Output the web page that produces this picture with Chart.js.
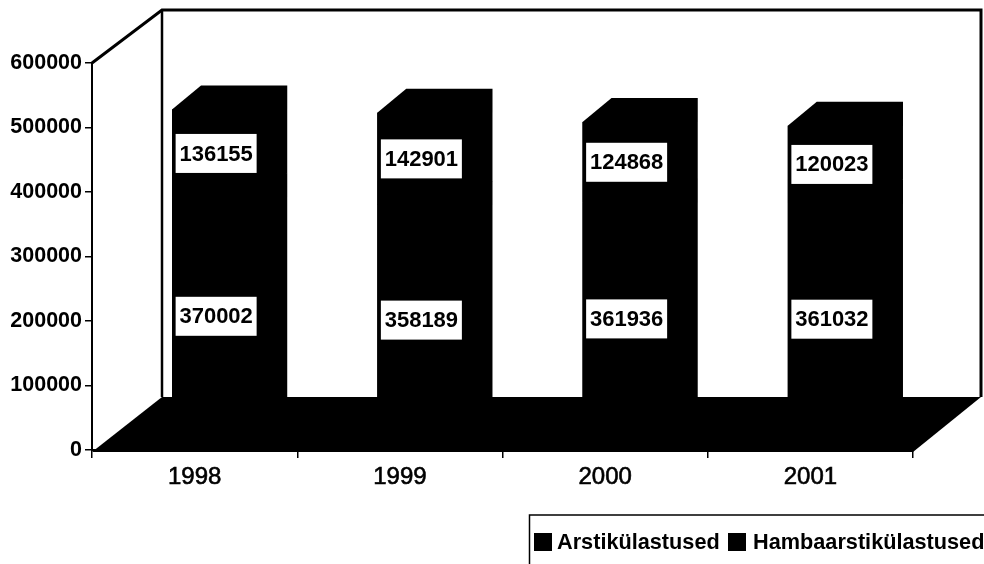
<!DOCTYPE html>
<html>
<head>
<meta charset="utf-8">
<style>html,body{margin:0;padding:0;background:#fff}canvas{display:block}</style>
<script src="https://cdn.jsdelivr.net/npm/chart.js@4"></script>
</head>
<body>
<canvas id="c" width="984" height="564"></canvas>
<script>
const categories = ['1998', '1999', '2000', '2001'];
const arstikulastused = [370002, 358189, 361936, 361032];
const hambaarstikulastused = [136155, 142901, 124868, 120023];
const seriesNames = ['Arstikülastused', 'Hambaarstikülastused'];
const yTicks = [0, 100000, 200000, 300000, 400000, 500000, 600000];

const WALL = {dx: 70, dy: -53};
const BAR_SHIFT = {dx: 20.5, dy: -14};
const BAR_DEPTH = {dx: 29, dy: -24};
const FONT = '"Liberation Sans", Arial, sans-serif';

const depth3d = {
  id: 'depth3d',
  beforeDatasetsDraw(chart) {
    const {ctx, chartArea: a} = chart;
    ctx.save();
    // back wall
    ctx.strokeStyle = '#000';
    ctx.lineWidth = 3;
    ctx.beginPath();
    ctx.moveTo(a.left, a.top);
    ctx.lineTo(a.left + WALL.dx, a.top + WALL.dy);
    ctx.lineTo(a.right + WALL.dx - 2, a.top + WALL.dy);
    ctx.lineTo(a.right + WALL.dx - 2, a.bottom + WALL.dy);
    ctx.stroke();
    ctx.lineWidth = 2.5;
    ctx.beginPath();
    ctx.moveTo(a.left + WALL.dx, a.top + WALL.dy);
    ctx.lineTo(a.left + WALL.dx, a.bottom + WALL.dy);
    ctx.stroke();
    // floor
    ctx.fillStyle = '#000';
    ctx.beginPath();
    ctx.moveTo(a.left, a.bottom + 2);
    ctx.lineTo(a.left + WALL.dx, a.bottom + WALL.dy);
    ctx.lineTo(a.right + WALL.dx - 2, a.bottom + WALL.dy);
    ctx.lineTo(a.right, a.bottom + 2);
    ctx.closePath();
    ctx.fill();
    // shift bars into the depth of the box and extrude them
    ctx.translate(BAR_SHIFT.dx, BAR_SHIFT.dy);
    chart.data.datasets.forEach((ds, i) => {
      chart.getDatasetMeta(i).data.forEach(bar => {
        const l = bar.x - bar.width / 2, r = bar.x + bar.width / 2;
        ctx.fillStyle = ds.backgroundColor;
        ctx.beginPath();
        ctx.moveTo(l, bar.y);
        ctx.lineTo(l + BAR_DEPTH.dx, bar.y + BAR_DEPTH.dy);
        ctx.lineTo(r + BAR_DEPTH.dx, bar.y + BAR_DEPTH.dy);
        ctx.lineTo(r + BAR_DEPTH.dx, bar.base + BAR_DEPTH.dy);
        ctx.lineTo(r, bar.base);
        ctx.lineTo(l, bar.base);
        ctx.closePath();
        ctx.fill();
      });
    });
  },
  afterDatasetsDraw(chart) {
    const {ctx} = chart;
    // value labels, still in the shifted space
    ctx.font = 'bold 22px ' + FONT;
    ctx.textAlign = 'center';
    ctx.textBaseline = 'middle';
    chart.data.datasets.forEach((ds, i) => {
      chart.getDatasetMeta(i).data.forEach((bar, j) => {
        const cx = bar.x + 1, cy = (bar.y + bar.base) / 2;
        ctx.fillStyle = '#fff';
        ctx.fillRect(cx - 40.5, cy - 19.5, 81, 39);
        ctx.fillStyle = '#000';
        ctx.fillText(String(ds.data[j]), cx, cy + 1);
      });
    });
    ctx.restore();
  },
  afterDraw(chart) {
    const {ctx} = chart;
    ctx.save();
    // legend box running off the page
    ctx.strokeStyle = '#000';
    ctx.lineWidth = 1.5;
    ctx.beginPath();
    ctx.moveTo(529.5, 570);
    ctx.lineTo(529.5, 515);
    ctx.lineTo(990, 515);
    ctx.stroke();
    ctx.font = 'bold 21.7px ' + FONT;
    ctx.textAlign = 'left';
    ctx.textBaseline = 'middle';
    const squares = [534, 728];
    const texts = [557, 753];
    chart.data.datasets.forEach((ds, i) => {
      ctx.fillStyle = ds.backgroundColor;
      ctx.fillRect(squares[i], 533, 18, 18);
      ctx.fillStyle = '#000';
      ctx.fillText(ds.label, texts[i], 543);
    });
    ctx.restore();
  }
};

new Chart(document.getElementById('c'), {
  type: 'bar',
  data: {
    labels: categories,
    datasets: [
      {label: seriesNames[0], data: arstikulastused, backgroundColor: '#000', stack: 's',
       categoryPercentage: 1, barPercentage: 0.42},
      {label: seriesNames[1], data: hambaarstikulastused, backgroundColor: '#000', stack: 's',
       categoryPercentage: 1, barPercentage: 0.42}
    ]
  },
  plugins: [depth3d],
  options: {
    responsive: false,
    animation: false,
    layout: {padding: {top: 63, right: 71, left: 0, bottom: 0}},
    plugins: {legend: {display: false}, tooltip: {enabled: false}},
    scales: {
      x: {
        stacked: true,
        offset: true,
        afterFit(s) { s.height = 114; },
        grid: {offset: true, drawOnChartArea: false, color: '#000', lineWidth: 1.5, tickLength: 8},
        border: {color: '#000', width: 2},
        ticks: {color: '#000', font: {family: FONT, size: 24}, padding: 5, maxRotation: 0,
                textStrokeColor: '#000', textStrokeWidth: 0.6}
      },
      y: {
        stacked: true,
        min: 0,
        max: 600000,
        afterFit(s) { s.width = 92; },
        afterBuildTicks(s) { s.ticks = yTicks.map(v => ({value: v})); },
        grid: {drawOnChartArea: false, color: '#000', lineWidth: 1.5, tickLength: 7},
        border: {color: '#000', width: 2},
        ticks: {color: '#000', font: {family: FONT, size: 21.5, weight: 'bold'}, padding: 3,
                callback: v => String(v)}
      }
    }
  }
});
</script>
</body>
</html>
